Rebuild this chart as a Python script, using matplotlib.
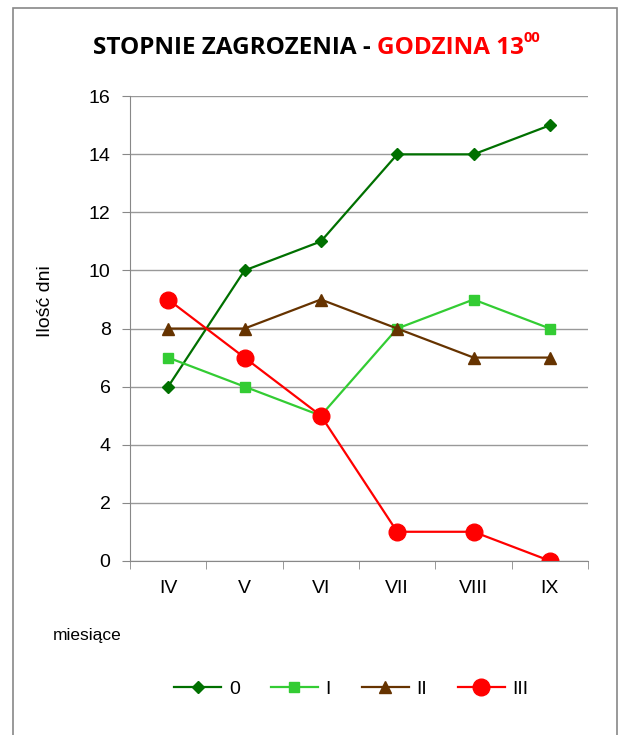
import matplotlib.pyplot as plt
from matplotlib.patches import Rectangle

months = ["IV", "V", "VI", "VII", "VIII", "IX"]
level_0 = [6, 10, 11, 14, 14, 15]
level_I = [7, 6, 5, 8, 9, 8]
level_II = [8, 8, 9, 8, 7, 7]
level_III = [9, 7, 5, 1, 1, 0]

plt.rcParams['font.family'] = ['Liberation Sans', 'DejaVu Sans']

fig = plt.figure(figsize=(6.19, 7.35), dpi=100)
ax = fig.add_axes([0.210, 0.237, 0.740, 0.632])

x = range(len(months))
ax.plot(x, level_0, color='#007000', lw=1.6, marker='D', ms=6, label='0')
ax.plot(x, level_I, color='#33CC33', lw=1.6, marker='s', ms=7, label='I')
ax.plot(x, level_II, color='#663300', lw=1.6, marker='^', ms=8, label='II')
ax.plot(x, level_III, color='#FF0000', lw=1.6, marker='o', ms=12, label='III')

ax.set_xlim(-0.5, len(months) - 0.5)
ax.set_ylim(0, 16)
ax.set_yticks(range(0, 17, 2))
ax.set_xticks(x)
ax.set_xticklabels(months)
ax.set_xticks([i - 0.5 for i in range(len(months) + 1)], minor=True)
ax.tick_params(axis='x', which='major', length=0, pad=14, labelsize=14)
ax.tick_params(axis='x', which='minor', length=6, color='#888888')
ax.tick_params(axis='y', length=6, color='#888888', labelsize=14, pad=8)
ax.grid(axis='y', color='#999999', lw=1)
ax.set_axisbelow(True)
for s in ['top', 'right']:
    ax.spines[s].set_visible(False)
for s in ['left', 'bottom']:
    ax.spines[s].set_color('#888888')

fig.text(0.073, 0.590, 'Ilość dni', rotation=90, ha='center', va='center', fontsize=14)
fig.text(0.085, 0.136, 'miesiące', ha='left', va='center', fontsize=12.5)

# title in three pieces: black, red, red superscript
tfont = dict(fontsize=17.5, fontweight='bold', family=['Open Sans', 'DejaVu Sans'])
t1 = fig.text(0.150, 0.926, 'STOPNIE ZAGROZENIA - ', ha='left', va='baseline', **tfont)
t2 = fig.text(0, 0, 'GODZINA 13', color='#FF0000', ha='left', va='baseline', **tfont)
fig.canvas.draw()
r = fig.canvas.get_renderer()
bb = t1.get_window_extent(r).transformed(fig.transFigure.inverted())
t2.set_position((bb.x1, 0.926))
bb2 = t2.get_window_extent(r).transformed(fig.transFigure.inverted())
fig.text(bb2.x1, 0.943, '00', color='#FF0000', ha='left', va='baseline',
         fontsize=10.5, fontweight='bold', family=['Open Sans', 'DejaVu Sans'])

fig.legend(loc='center', bbox_to_anchor=(0.568, 0.063), ncol=4, frameon=False,
           fontsize=14, handlelength=2.4, columnspacing=1.6, handletextpad=0.4)

fig.patches.append(Rectangle((0.021, -0.1), 0.976, 1.089, transform=fig.transFigure,
                             fill=False, edgecolor='#888888', lw=1.2))

fig.savefig('out.png', dpi=100)
